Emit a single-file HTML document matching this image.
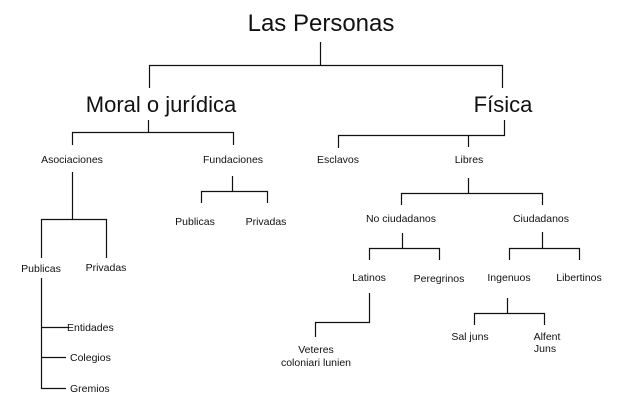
<!DOCTYPE html>
<html><head><meta charset="utf-8"><style>
html,body{margin:0;padding:0;background:#fff;}
svg{display:block;}
text{font-family:"Liberation Sans",Arial,sans-serif;fill:#111;}
.s{font-size:10.5px;}
</style></head><body>
<svg width="643" height="410" viewBox="0 0 643 410" xmlns="http://www.w3.org/2000/svg">
<g stroke="#111" stroke-width="1.2" fill="none">
<path d="M320.5 42V65.5M149.5 88V65.5H502.5V88"/>
<path d="M148.5 120V132.5M72.5 145V132.5H233.5V145"/>
<path d="M504.5 120V135.5H338.5V148M468.5 135.5V147"/>
<path d="M72.5 172V219.5M41.5 258V219.5H106.5V258"/>
<path d="M41.5 278V388.5H66M41.5 327.5H68M41.5 357.5H66"/>
<path d="M232.5 176V191.5M201.5 203V191.5H267.5V203"/>
<path d="M468.5 178V193.5M401.5 205V193.5H542.5V205"/>
<path d="M402.5 233V248.5M369.5 260V248.5H439.5V260"/>
<path d="M542.5 232V248.5M509.5 260V248.5H579.5V260"/>
<path d="M369.5 293V322.5H315.5V337"/>
<path d="M507.5 298V313.5M474.5 325V313.5H544.5V325"/>
</g>
<text x="321" y="31" font-size="24" text-anchor="middle">Las Personas</text>
<text x="161" y="112" font-size="22" text-anchor="middle">Moral o jurídica</text>
<text x="503" y="112" font-size="22" text-anchor="middle">Física</text>
<g class="s" text-anchor="middle">
<text x="72" y="163">Asociaciones</text>
<text x="233" y="163">Fundaciones</text>
<text x="338" y="163">Esclavos</text>
<text x="469" y="163">Libres</text>
<text x="41" y="272">Publicas</text>
<text x="106" y="271">Privadas</text>
<text x="195" y="225">Publicas</text>
<text x="266" y="225">Privadas</text>
<text x="401" y="222">No ciudadanos</text>
<text x="541" y="222">Ciudadanos</text>
<text x="369" y="281">Latinos</text>
<text x="439" y="282">Peregrinos</text>
<text x="509" y="281">Ingenuos</text>
<text x="579" y="281">Libertinos</text>
<text x="316" y="353">Veteres</text>
<text x="316" y="366">coloniari lunien</text>
<text x="470" y="340">Sal juns</text>
<text x="547" y="340">Alfent</text>
<text x="545" y="352">Juns</text>
</g>
<g class="s">
<text x="67" y="331">Entidades</text>
<text x="70" y="361">Colegios</text>
<text x="70" y="392">Gremios</text>
</g>
</svg>
</body></html>
